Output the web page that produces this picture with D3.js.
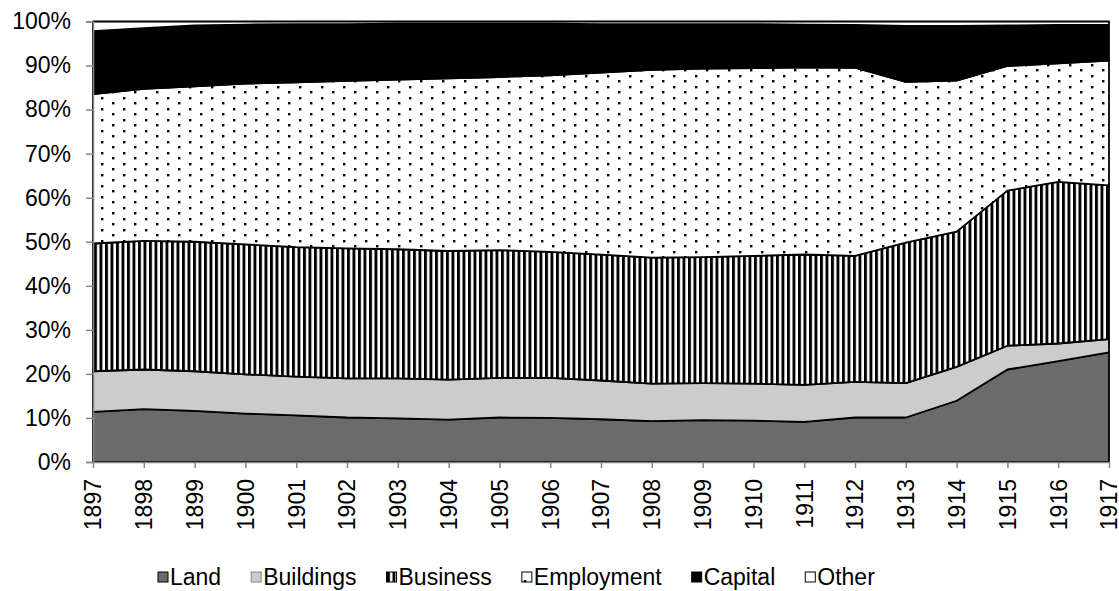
<!DOCTYPE html>
<html>
<head>
<meta charset="utf-8">
<script src="https://cdn.jsdelivr.net/npm/d3@7"></script>
<style>
body { margin: 0; background: #fff; }
text { font-family: Arial, "Liberation Sans", sans-serif; fill: #000; }
</style>
</head>
<body>
<div id="chartDiv"></div>
<script>
// shares per year, in percent
var years      = [1897,1898,1899,1900,1901,1902,1903,1904,1905,1906,1907,1908,1909,1910,1911,1912,1913,1914,1915,1916,1917];
var land       = [11.4,12.0,11.6,11.0,10.6,10.1, 9.9, 9.6,10.1,10.0, 9.7, 9.3, 9.5, 9.4, 9.1,10.1,10.1,13.9,21.0,22.9,24.9];
var buildings  = [ 9.2, 9.0, 9.0, 8.9, 8.8, 8.9, 9.1, 9.1, 9.0, 9.1, 8.8, 8.5, 8.4, 8.4, 8.4, 8.1, 7.8, 7.7, 5.4, 4.0, 3.0];
var business   = [29.0,29.2,29.4,29.5,29.4,29.5,29.3,29.2,29.0,28.6,28.6,28.6,28.6,29.0,29.6,28.6,31.9,30.7,35.2,36.7,34.9];
var employment = [33.9,34.5,35.3,36.5,37.4,38.0,38.5,39.2,39.3,40.1,41.3,42.6,42.8,42.6,42.5,42.7,36.5,34.3,28.3,26.9,28.3];
var capital    = [14.3,13.8,13.8,13.4,13.2,12.9,12.7,12.4,12.1,11.7,11.0,10.4,10.1,10.0, 9.7, 9.7,12.7,12.4, 9.2, 8.7, 8.2];
var other      = [ 2.2, 1.5, 0.9, 0.7, 0.6, 0.6, 0.5, 0.5, 0.5, 0.5, 0.6, 0.6, 0.6, 0.6, 0.7, 0.8, 1.0, 1.0, 0.9, 0.8, 0.7];

var seriesNames = ["Land", "Buildings", "Business", "Employment", "Capital", "Other"];
var seriesValues = [land, buildings, business, employment, capital, other];
var yTicks = [0, 0.1, 0.2, 0.3, 0.4, 0.5, 0.6, 0.7, 0.8, 0.9, 1];

var rows = years.map(function(yr, i) {
  var r = {year: yr};
  seriesNames.forEach(function(n, k) { r[n] = seriesValues[k][i]; });
  return r;
});

var svg = d3.select("#chartDiv").append("svg")
    .attr("width", 1119)
    .attr("height", 591);

var plot = {left: 93, right: 1109, top: 21.5, bottom: 462};
var fontSize = 23;

var defs = svg.append("defs");

// dotted pattern (Employment)
var dots = defs.append("pattern").attr("id", "dots")
    .attr("patternUnits", "userSpaceOnUse")
    .attr("width", 22).attr("height", 11)
    .attr("x", 2).attr("y", 3);
dots.append("rect").attr("width", 22).attr("height", 11).attr("fill", "#fff");
dots.append("rect").attr("x", 0).attr("y", 0).attr("width", 2.4).attr("height", 2.4).attr("fill", "#000");
dots.append("rect").attr("x", 11).attr("y", 6).attr("width", 2.4).attr("height", 2.4).attr("fill", "#000");

// vertical stripes (Business)
var stripes = defs.append("pattern").attr("id", "stripes")
    .attr("patternUnits", "userSpaceOnUse")
    .attr("width", 5.5).attr("height", 10)
    .attr("x", 0.5);
stripes.append("rect").attr("width", 5.5).attr("height", 10).attr("fill", "#fff");
stripes.append("rect").attr("width", 2.9).attr("height", 10).attr("fill", "#000");

var fills = {
  Land: "#6b6b6b",
  Buildings: "#cccccc",
  Business: "url(#stripes)",
  Employment: "url(#dots)",
  Capital: "#000",
  Other: "#fff"
};

var x = d3.scaleLinear()
    .domain([years[0], years[years.length - 1]])
    .range([plot.left, plot.right]);

var y = d3.scaleLinear()
    .domain([0, 1])
    .range([plot.bottom, plot.top]);

var stack = d3.stack()
    .keys(seriesNames)
    .offset(d3.stackOffsetExpand);

var layers = stack(rows);

var area = d3.area()
    .x(function(d) { return x(d.data.year); })
    .y0(function(d) { return y(d[0]); })
    .y1(function(d) { return y(d[1]); });

svg.append("g").selectAll("path")
    .data(layers)
    .enter().append("path")
    .attr("d", area)
    .attr("fill", function(d) { return fills[d.key]; })
    .attr("stroke", "#000")
    .attr("stroke-width", 1.8)
    .attr("stroke-linejoin", "round");

// axes
var axisColor = "#868686";

var yAxis = d3.axisLeft(y)
    .tickValues(yTicks)
    .tickSize(7)
    .tickPadding(15)
    .tickFormat(d3.format(".0%"));

var yg = svg.append("g")
    .attr("transform", "translate(" + plot.left + ",0)")
    .call(yAxis);
yg.select(".domain").attr("stroke", axisColor).attr("stroke-width", 1.5);
yg.selectAll(".tick line").attr("stroke", axisColor).attr("stroke-width", 1.5);
yg.selectAll(".tick text")
    .attr("font-size", fontSize)
    .attr("font-family", "Arial, 'Liberation Sans', sans-serif")
    .attr("fill", "#000");

var xAxis = d3.axisBottom(x)
    .tickValues(years)
    .tickSize(6)
    .tickSizeOuter(0)
    .tickFormat(d3.format("d"));

var xg = svg.append("g")
    .attr("transform", "translate(0," + plot.bottom + ")")
    .call(xAxis);
xg.select(".domain").attr("stroke", axisColor).attr("stroke-width", 1.5);
xg.selectAll(".tick line").attr("stroke", axisColor).attr("stroke-width", 1.5);
xg.selectAll(".tick text")
    .attr("font-size", fontSize)
    .attr("font-family", "Arial, 'Liberation Sans', sans-serif")
    .attr("fill", "#000")
    .attr("text-anchor", "end")
    .attr("transform", "translate(0,17) rotate(-90)")
    .attr("x", 0)
    .attr("y", 0)
    .attr("dy", "0.34em");

// legend
var legend = svg.append("g").attr("transform", "translate(0,577)");
var lx = 158;
seriesNames.forEach(function(n) {
  var item = legend.append("g").attr("transform", "translate(" + lx + ",0)");
  item.append("rect")
      .attr("x", 0).attr("y", -5)
      .attr("width", 10).attr("height", 10)
      .attr("fill", fills[n])
      .attr("stroke", n === "Buildings" ? "#888" : "#000")
      .attr("stroke-width", 1);
  var t = item.append("text")
      .attr("x", 12)
      .attr("y", 0)
      .attr("dy", "0.35em")
      .attr("font-size", fontSize)
      .text(n);
  lx += 12 + t.node().getComputedTextLength() + 30;
});
</script>
</body>
</html>
